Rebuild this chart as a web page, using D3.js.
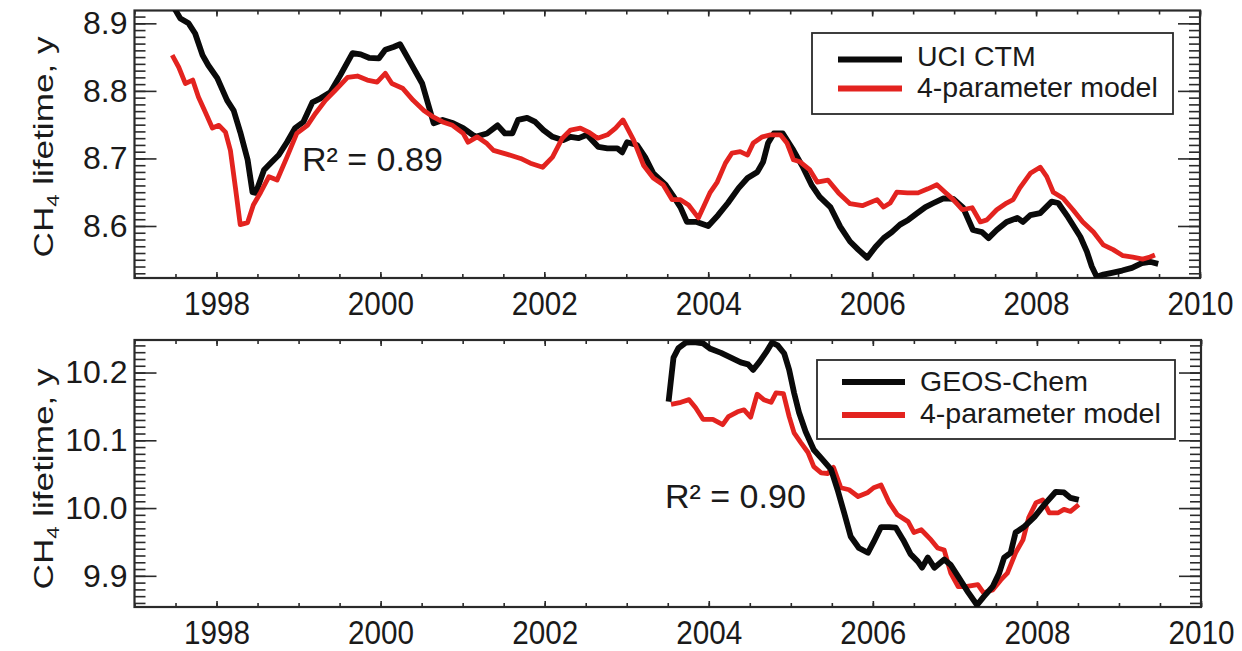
<!DOCTYPE html>
<html>
<head>
<meta charset="utf-8">
<script src="https://cdn.jsdelivr.net/npm/d3@7"></script>
<style>
  html, body { margin: 0; padding: 0; background: #fff; }
  svg { display: block; }
  text { font-family: "Liberation Sans", Arial, Helvetica, sans-serif; fill: #1a1a1a; }
</style>
</head>
<body>
<svg id="chart" width="1242" height="651"></svg>
<script>
// ---- Data: CH4 lifetime (years) ----
// Panel A: UCI CTM and its 4-parameter fit
const uciYears = [1997.45,1997.56,1997.66,1997.74,1997.83,1997.90,1998.01,1998.13,1998.21,1998.29,1998.38,1998.44,1998.48,1998.58,1998.66,1998.76,1998.86,1998.96,1999.06,1999.17,1999.27,1999.39,1999.51,1999.66,1999.76,1999.86,1999.98,2000.06,2000.16,2000.24,2000.37,2000.51,2000.65,2000.76,2000.89,2001.01,2001.16,2001.30,2001.43,2001.52,2001.61,2001.68,2001.79,2001.89,2001.99,2002.10,2002.23,2002.32,2002.42,2002.52,2002.66,2002.77,2002.89,2002.95,2003.01,2003.13,2003.23,2003.33,2003.48,2003.58,2003.66,2003.74,2003.86,2004.00,2004.12,2004.24,2004.37,2004.48,2004.60,2004.67,2004.73,2004.80,2004.91,2005.04,2005.16,2005.26,2005.36,2005.49,2005.61,2005.73,2005.83,2005.94,2006.04,2006.14,2006.24,2006.34,2006.44,2006.55,2006.65,2006.75,2006.87,2006.99,2007.11,2007.23,2007.34,2007.42,2007.52,2007.64,2007.77,2007.84,2007.93,2008.05,2008.19,2008.27,2008.39,2008.54,2008.62,2008.68,2008.74,2008.82,2008.94,2009.05,2009.17,2009.29,2009.39,2009.49];
const uciValues = [8.930,8.907,8.900,8.885,8.853,8.838,8.819,8.786,8.771,8.739,8.698,8.650,8.649,8.683,8.693,8.705,8.724,8.745,8.754,8.783,8.789,8.798,8.823,8.856,8.854,8.849,8.848,8.861,8.865,8.869,8.841,8.811,8.752,8.757,8.752,8.745,8.732,8.737,8.749,8.737,8.737,8.757,8.760,8.754,8.742,8.732,8.727,8.732,8.730,8.735,8.717,8.715,8.715,8.709,8.724,8.720,8.702,8.678,8.661,8.643,8.628,8.606,8.606,8.600,8.616,8.634,8.656,8.671,8.680,8.695,8.723,8.737,8.737,8.712,8.686,8.661,8.643,8.628,8.599,8.577,8.565,8.553,8.569,8.582,8.591,8.602,8.609,8.619,8.628,8.634,8.641,8.640,8.627,8.594,8.591,8.582,8.594,8.606,8.612,8.606,8.616,8.619,8.636,8.634,8.613,8.584,8.562,8.540,8.525,8.528,8.531,8.534,8.538,8.545,8.547,8.544];

const uciFitYears = [1997.46,1997.54,1997.62,1997.71,1997.78,1997.87,1997.95,1998.03,1998.11,1998.17,1998.23,1998.29,1998.38,1998.45,1998.54,1998.64,1998.74,1998.86,1998.98,1999.11,1999.21,1999.33,1999.45,1999.60,1999.72,1999.84,1999.96,2000.06,2000.14,2000.27,2000.40,2000.53,2000.65,2000.76,2000.88,2001.01,2001.07,2001.18,2001.30,2001.38,2001.55,2001.71,2001.83,2001.98,2002.10,2002.22,2002.32,2002.44,2002.54,2002.65,2002.77,2002.87,2002.96,2003.09,2003.21,2003.33,2003.45,2003.56,2003.66,2003.76,2003.88,2004.02,2004.11,2004.21,2004.29,2004.39,2004.48,2004.55,2004.66,2004.76,2004.88,2004.96,2005.04,2005.12,2005.24,2005.33,2005.46,2005.59,2005.73,2005.88,2006.06,2006.14,2006.22,2006.30,2006.43,2006.56,2006.68,2006.79,2006.89,2006.99,2007.10,2007.22,2007.32,2007.40,2007.52,2007.64,2007.72,2007.80,2007.93,2008.05,2008.13,2008.21,2008.33,2008.45,2008.57,2008.70,2008.82,2008.94,2009.06,2009.18,2009.30,2009.39,2009.45];
const uciFitValues = [8.853,8.835,8.811,8.816,8.791,8.767,8.745,8.749,8.739,8.712,8.658,8.602,8.605,8.631,8.650,8.673,8.668,8.702,8.737,8.749,8.767,8.786,8.801,8.820,8.822,8.816,8.813,8.826,8.811,8.804,8.786,8.771,8.761,8.754,8.749,8.737,8.724,8.732,8.722,8.712,8.706,8.700,8.693,8.687,8.702,8.730,8.742,8.745,8.739,8.730,8.735,8.745,8.757,8.727,8.690,8.671,8.661,8.639,8.639,8.631,8.612,8.649,8.665,8.693,8.708,8.710,8.705,8.723,8.732,8.735,8.735,8.723,8.698,8.695,8.683,8.665,8.668,8.649,8.633,8.630,8.639,8.628,8.634,8.650,8.649,8.649,8.655,8.661,8.650,8.639,8.624,8.627,8.606,8.609,8.624,8.634,8.639,8.656,8.678,8.687,8.673,8.650,8.641,8.624,8.606,8.591,8.572,8.565,8.556,8.554,8.551,8.554,8.557];

// Panel B: GEOS-Chem and its 4-parameter fit
const geosYears = [2003.51,2003.57,2003.63,2003.72,2003.82,2003.93,2004.02,2004.15,2004.27,2004.39,2004.48,2004.54,2004.62,2004.70,2004.77,2004.84,2004.92,2004.98,2005.04,2005.10,2005.18,2005.28,2005.39,2005.49,2005.57,2005.65,2005.73,2005.83,2005.94,2006.01,2006.10,2006.20,2006.28,2006.37,2006.46,2006.55,2006.60,2006.67,2006.75,2006.87,2006.95,2007.05,2007.16,2007.27,2007.35,2007.46,2007.54,2007.60,2007.68,2007.74,2007.84,2007.97,2008.09,2008.23,2008.33,2008.41,2008.51];
const geosValues = [10.157,10.222,10.236,10.244,10.245,10.243,10.235,10.229,10.222,10.215,10.212,10.204,10.216,10.230,10.244,10.240,10.228,10.204,10.170,10.141,10.113,10.086,10.071,10.057,10.027,9.993,9.958,9.941,9.934,9.950,9.972,9.972,9.971,9.953,9.932,9.921,9.912,9.927,9.912,9.924,9.916,9.897,9.876,9.857,9.869,9.884,9.904,9.927,9.934,9.964,9.972,9.987,10.005,10.024,10.023,10.015,10.012];

const geosFitYears = [2003.54,2003.66,2003.76,2003.84,2003.93,2004.05,2004.17,2004.24,2004.35,2004.43,2004.51,2004.59,2004.67,2004.76,2004.82,2004.91,2004.98,2005.04,2005.12,2005.21,2005.28,2005.37,2005.45,2005.52,2005.61,2005.71,2005.82,2005.94,2006.01,2006.10,2006.20,2006.30,2006.43,2006.50,2006.59,2006.71,2006.79,2006.87,2006.95,2007.04,2007.13,2007.28,2007.35,2007.46,2007.56,2007.64,2007.74,2007.83,2007.90,2007.99,2008.07,2008.15,2008.26,2008.33,2008.41,2008.51];
const geosFitValues = [10.153,10.156,10.160,10.148,10.131,10.131,10.123,10.135,10.142,10.145,10.134,10.168,10.160,10.156,10.170,10.169,10.135,10.111,10.097,10.082,10.061,10.052,10.051,10.060,10.030,10.027,10.017,10.023,10.030,10.034,10.008,9.990,9.980,9.964,9.968,9.953,9.941,9.938,9.904,9.884,9.884,9.887,9.875,9.879,9.894,9.904,9.934,9.953,9.986,10.008,10.012,9.993,9.993,9.998,9.995,10.005];

// Axis ticks and labels
const yearMajorTicks = [1998, 2000, 2002, 2004, 2006, 2008, 2010];
const yearMinorStep = 0.5;
const uciTicks = [8.6, 8.7, 8.8, 8.9];
const geosTicks = [9.9, 10.0, 10.1, 10.2];
const fitLabel = "4-parameter model";

// ---- Drawing ----
const svg = d3.select("#chart");
const BLACK = "#0a0a0a", RED = "#e3231f", AXIS = "#2a2a2a";

function drawPanel(cfg) {
  const { top, bottom, left, right, yDomain, yTicks, yFmt, series, legend, r2, titleY, id } = cfg;

  const x = d3.scaleLinear().domain([1997, 2010]).range([left, right]);
  const y = d3.scaleLinear().domain(yDomain).range([bottom, top]);

  const g = svg.append("g");

  // clip for the data lines
  svg.append("defs").append("clipPath").attr("id", id)
    .append("rect").attr("x", left).attr("y", top)
    .attr("width", right - left).attr("height", bottom - top);

  const minorYears = d3.range(1997, 2010.001, yearMinorStep);
  const minorY = d3.range(Math.ceil(yDomain[0] * 100), Math.floor(yDomain[1] * 100) + 1).map(v => v / 100);

  const styleAxis = sel => {
    sel.select(".domain").remove();
    sel.selectAll(".tick line").attr("stroke", AXIS).attr("stroke-width", 1.6);
  };

  // bottom axis: minor then major with labels
  g.append("g").attr("transform", `translate(0,${bottom})`)
    .call(d3.axisBottom(x).tickValues(minorYears).tickSize(-4).tickFormat(""))
    .call(styleAxis);
  const bx = g.append("g").attr("transform", `translate(0,${bottom})`)
    .call(d3.axisBottom(x).tickValues(yearMajorTicks).tickSize(-6).tickPadding(14).tickFormat(d3.format("d")))
    .call(styleAxis);
  bx.selectAll(".tick text")
    .attr("font-size", 33).attr("fill", "#1a1a1a")
    .attr("font-family", "Liberation Sans, Arial, sans-serif")
    .attr("dy", "0.71em")
    .attr("transform", "scale(0.9,1)");

  // top axis (ticks only)
  g.append("g").attr("transform", `translate(0,${top})`)
    .call(d3.axisTop(x).tickValues(minorYears).tickSize(-4).tickFormat(""))
    .call(styleAxis);
  g.append("g").attr("transform", `translate(0,${top})`)
    .call(d3.axisTop(x).tickValues(yearMajorTicks).tickSize(-6).tickFormat(""))
    .call(styleAxis);

  // left axis
  g.append("g").attr("transform", `translate(${left},0)`)
    .call(d3.axisLeft(y).tickValues(minorY).tickSize(-11).tickFormat(""))
    .call(styleAxis);
  const ly = g.append("g").attr("transform", `translate(${left},0)`)
    .call(d3.axisLeft(y).tickValues(yTicks).tickSize(-22).tickPadding(7).tickFormat(yFmt))
    .call(styleAxis);
  ly.selectAll(".tick text")
    .attr("font-size", 32).attr("fill", "#1a1a1a")
    .attr("font-family", "Liberation Sans, Arial, sans-serif");

  // right axis (ticks only)
  g.append("g").attr("transform", `translate(${right},0)`)
    .call(d3.axisRight(y).tickValues(minorY).tickSize(-11).tickFormat(""))
    .call(styleAxis);
  g.append("g").attr("transform", `translate(${right},0)`)
    .call(d3.axisRight(y).tickValues(yTicks).tickSize(-22).tickFormat(""))
    .call(styleAxis);

  // frame
  g.append("rect").attr("x", left).attr("y", top)
    .attr("width", right - left).attr("height", bottom - top)
    .attr("fill", "none").attr("stroke", AXIS).attr("stroke-width", 2.2);

  // y-axis title: CH4 lifetime, y
  const t = g.append("text")
    .attr("transform", `translate(53,${titleY}) rotate(-90) scale(1.3,1)`)
    .attr("text-anchor", "middle").attr("font-size", 27);
  t.append("tspan").text("CH");
  t.append("tspan").attr("font-size", 17).attr("dy", 6).text("4");
  t.append("tspan").attr("dy", -6).text(" lifetime, y");

  // data lines
  const line = d3.line().x(d => x(d[0])).y(d => y(d[1])).curve(d3.curveLinear);
  const lg = g.append("g").attr("clip-path", `url(#${id})`);
  series.forEach(s => {
    const pts = d3.zip(s.years, s.values);
    lg.append("path").datum(pts)
      .attr("d", line)
      .attr("fill", "none")
      .attr("stroke", s.color)
      .attr("stroke-width", s.width)
      .attr("stroke-linejoin", "round")
      .attr("stroke-linecap", "butt");
  });

  // legend
  const L = legend;
  g.append("rect").attr("x", L.x).attr("y", L.y).attr("width", L.w).attr("height", L.h)
    .attr("fill", "#fff").attr("stroke", AXIS).attr("stroke-width", 1.8);
  L.items.forEach(it => {
    g.append("line").attr("x1", L.lx0).attr("x2", L.lx1).attr("y1", it.ly).attr("y2", it.ly)
      .attr("stroke", it.color).attr("stroke-width", 6);
    g.append("text").attr("x", L.tx).attr("y", it.ty).attr("font-size", 28.5).text(it.label);
  });

  // R^2 annotation
  g.append("text").attr("x", r2.x).attr("y", r2.y).attr("font-size", 34).text(r2.text);
}

drawPanel({
  id: "clipA",
  top: 10.5, bottom: 278, left: 134.5, right: 1200,
  yDomain: [8.523, 8.919], yTicks: uciTicks, yFmt: d3.format(".1f"),
  titleY: 147,
  series: [
    { years: uciYears, values: uciValues, color: BLACK, width: 5.8 },
    { years: uciFitYears, values: uciFitValues, color: RED, width: 4.8 }
  ],
  legend: {
    x: 812, y: 33, w: 361, h: 81, lx0: 838, lx1: 902, tx: 917,
    items: [
      { label: "UCI CTM", color: BLACK, ly: 59.5, ty: 65.5 },
      { label: fitLabel, color: RED, ly: 88.5, ty: 97 }
    ]
  },
  r2: { x: 302, y: 171, text: "R\u00B2 = 0.89" }
});

drawPanel({
  id: "clipB",
  top: 340, bottom: 607, left: 134.5, right: 1201,
  yDomain: [9.854, 10.248], yTicks: geosTicks, yFmt: d3.format(".1f"),
  titleY: 479,
  series: [
    { years: geosFitYears, values: geosFitValues, color: RED, width: 4.8 },
    { years: geosYears, values: geosValues, color: BLACK, width: 5.8 }
  ],
  legend: {
    x: 817, y: 360, w: 358, h: 79, lx0: 842, lx1: 905, tx: 920,
    items: [
      { label: "GEOS-Chem", color: BLACK, ly: 382, ty: 390.5 },
      { label: fitLabel, color: RED, ly: 415, ty: 422.5 }
    ]
  },
  r2: { x: 665, y: 508, text: "R\u00B2 = 0.90" }
});
</script>
</body>
</html>
